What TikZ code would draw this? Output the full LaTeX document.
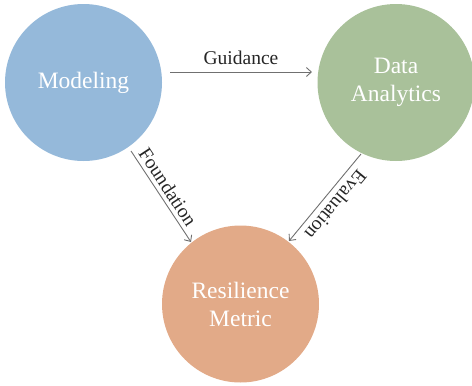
\documentclass[tikz,border=0pt]{standalone}
\usepackage{fontspec}
\setmainfont{Liberation Serif}
\usetikzlibrary{arrows.meta}
\definecolor{cblue}{HTML}{95B9DA}
\definecolor{cgreen}{HTML}{A9C19A}
\definecolor{corange}{HTML}{E2AA88}
\definecolor{cline}{HTML}{707070}
\begin{document}
\begin{tikzpicture}[x=1pt,y=-1pt,
  bubble/.style={circle,minimum size=157pt,inner sep=0pt,text=white,align=center,font=\fontsize{23.5}{28}\selectfont},
  conn/.style={draw=cline,line width=0.9pt,-{Straight Barb[length=5pt,width=9pt]}},
  lbl/.style={font=\fontsize{19.5}{22}\selectfont,text=black!85,inner sep=0pt}]
\useasboundingbox (0,0) rectangle (472,386);
\node[bubble,fill=cblue] (mod) at (83.5,82.5) {Modeling};
\node[bubble,fill=cgreen] (data) at (396,82.5) {Data\\Analytics};
\node[bubble,fill=corange] (res) at (240.5,304) {Resilience\\Metric};
\coordinate (g1) at (170,72);
\coordinate (g2) at (312,72);
\coordinate (f1) at (131,151);
\coordinate (f2) at (191,242);
\coordinate (e1) at (361,154);
\coordinate (e2) at (289,241);
\draw[conn] (g1) -- (g2);
\draw[conn] (f1) -- (f2);
\draw[conn] (e1) -- (e2);
\node[lbl] (gl) at (241,58) {Guidance};
\node[lbl,rotate=-56.6] (fl) at (168,187) {Foundation};
\node[lbl,rotate=-129.6] (el) at (336,205) {Evaluation};
\end{tikzpicture}
\end{document}
